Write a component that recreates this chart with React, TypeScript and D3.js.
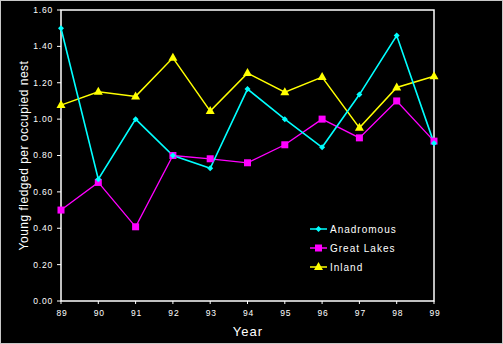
import React from "react";
import * as d3 from "d3";

const years = ["89", "90", "91", "92", "93", "94", "95", "96", "97", "98", "99"];
const anadromous = [1.5, 0.67, 1.0, 0.8, 0.73, 1.165, 1.0, 0.845, 1.135, 1.46, 0.868];
const greatLakes = [0.5, 0.652, 0.408, 0.8, 0.782, 0.76, 0.859, 1.0, 0.897, 1.1, 0.879];
const inland = [1.077, 1.15, 1.125, 1.337, 1.044, 1.253, 1.148, 1.231, 0.952, 1.174, 1.236];
const yTicks = [0, 0.2, 0.4, 0.6, 0.8, 1.0, 1.2, 1.4, 1.6];

const W = 503, H = 344;
const L = 61, R = 434, T = 10, B = 301;
const FONT = "'Liberation Sans', Arial, sans-serif";

export default function App() {
  const x = d3.scalePoint<string>().domain(years).range([L, R]);
  const y = d3.scaleLinear().domain([0, 1.6]).range([B, T]);
  const line = d3
    .line<number>()
    .x((_, i) => x(years[i]) as number)
    .y((d) => y(d));

  const diamond = (cx: number, cy: number, s: number) =>
    `M${cx},${cy - s}L${cx + s},${cy}L${cx},${cy + s}L${cx - s},${cy}Z`;
  const tri = (cx: number, cy: number) =>
    `M${cx},${cy - 5}L${cx + 4.5},${cy + 3}L${cx - 4.5},${cy + 3}Z`;

  const legend = [
    { name: "Anadromous", color: "#00FFFF", kind: "d" },
    { name: "Great Lakes", color: "#FF00FF", kind: "s" },
    { name: "Inland", color: "#FFFF00", kind: "t" },
  ];

  const marker = (kind: string, cx: number, cy: number, color: string, key: any) => {
    if (kind === "d") return <path key={key} d={diamond(cx, cy, 3)} fill={color} />;
    if (kind === "s")
      return <rect key={key} x={cx - 3.5} y={cy - 3.5} width={7} height={7} fill={color} />;
    return <path key={key} d={tri(cx, cy)} fill={color} />;
  };

  return (
    <svg
      width={W}
      height={H}
      style={{ position: "absolute", left: 0, top: 0, background: "#000" }}
      fontFamily={FONT}
    >
      <rect x={0} y={0} width={W} height={H} fill="#000" />
      <rect x={0.5} y={0.5} width={W - 1} height={H - 1} fill="none" stroke="#c8c8c8" strokeWidth={1} />

      {/* plot border */}
      <rect x={L} y={T} width={R - L} height={B - T} fill="none" stroke="#fff" strokeWidth={1.5} />

      {/* y ticks */}
      {yTicks.map((t) => (
        <g key={t}>
          <line x1={L - 4} x2={L} y1={y(t)} y2={y(t)} stroke="#fff" strokeWidth={1} />
          <text
            x={L - 8}
            y={y(t)}
            dy="0.35em"
            textAnchor="end"
            fill="#fff"
            fontSize={8.5}
            letterSpacing={0.8}
          >
            {t.toFixed(2)}
          </text>
        </g>
      ))}

      {/* x ticks */}
      {years.map((yr) => (
        <g key={yr}>
          <line x1={x(yr)} x2={x(yr)} y1={B} y2={B + 3} stroke="#fff" strokeWidth={1} />
          <text
            x={(x(yr) as number) + 1}
            y={B + 15}
            textAnchor="middle"
            fill="#fff"
            fontSize={8.5}
            letterSpacing={0.8}
          >
            {yr}
          </text>
        </g>
      ))}

      {/* axis titles */}
      <text x={248} y={336} textAnchor="middle" fill="#fff" fontSize={13} letterSpacing={1}>
        Year
      </text>
      <text
        transform={`translate(28,${(T + B) / 2}) rotate(-90)`}
        textAnchor="middle"
        fill="#fff"
        fontSize={12}
        letterSpacing={0.5}
      >
        Young fledged per occupied nest
      </text>

      {/* series */}
      <path d={line(greatLakes) as string} fill="none" stroke="#FF00FF" strokeWidth={1.3} />
      <path d={line(inland) as string} fill="none" stroke="#FFFF00" strokeWidth={1.5} />
      <path d={line(anadromous) as string} fill="none" stroke="#00FFFF" strokeWidth={1.6} />
      {greatLakes.map((v, i) => marker("s", x(years[i]) as number, y(v), "#FF00FF", "g" + i))}
      {inland.map((v, i) => marker("t", x(years[i]) as number, y(v), "#FFFF00", "i" + i))}
      {anadromous.map((v, i) => marker("d", x(years[i]) as number, y(v), "#00FFFF", "a" + i))}

      {/* legend */}
      {legend.map((l, i) => {
        const ly = 229 + i * 19;
        return (
          <g key={l.name}>
            <line x1={310} x2={327} y1={ly} y2={ly} stroke={l.color} strokeWidth={1.5} />
            {marker(l.kind, 318.5, ly, l.color, "l" + i)}
            <text x={330} y={ly} dy="0.35em" fill="#fff" fontSize={10} letterSpacing={1}>
              {l.name}
            </text>
          </g>
        );
      })}
    </svg>
  );
}
